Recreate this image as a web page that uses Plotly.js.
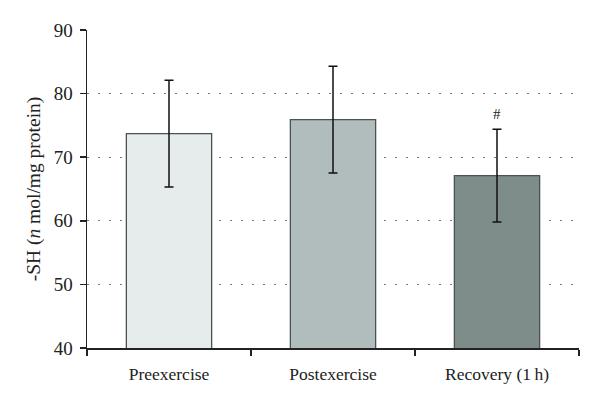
<!DOCTYPE html>
<html>
<head>
<meta charset="utf-8">
<script src="https://cdn.plot.ly/plotly-3.0.1.min.js"></script>
<style>html,body{margin:0;padding:0;background:#fff;}#chart{width:600px;height:409px;}</style>
</head>
<body>
<div id="chart"></div>
<script>
const categories = ["Preexercise", "Postexercise", "Recovery (1\u2009h)"];
const means = [73.7, 75.9, 67.1];
const errors = [8.4, 8.4, 7.3];
const barColors = ["#e6ebeb", "#b1bdbc", "#7e8d8a"];
const marks = ["", "", "#"];

const font = "Liberation Serif, Times New Roman, serif";

const trace = {
  type: "bar",
  x: categories,
  y: means,
  width: 0.52,
  marker: { color: barColors, line: { color: "#4a5252", width: 1.3 } },
  error_y: { type: "data", array: errors, visible: true, color: "#111", thickness: 1.5, width: 4.5 },
  hoverinfo: "skip"
};

const annotations = categories.map((c, i) => ({
  x: c, y: means[i] + errors[i], text: marks[i], showarrow: false,
  yanchor: "bottom", yshift: 5, font: { family: font, size: 15, color: "#222" }
})).filter(a => a.text);

const layout = {
  width: 600, height: 409,
  margin: { l: 87, r: 21, t: 30, b: 61 },
  paper_bgcolor: "#fff", plot_bgcolor: "#fff",
  showlegend: false,
  font: { family: font, color: "#222" },
  xaxis: {
    type: "category", range: [-0.5, 2.5],
    showline: true, linecolor: "#222", linewidth: 1.5,
    ticks: "outside", tickson: "boundaries", ticklen: 6, tickcolor: "#222", tickwidth: 1.5,
    tickfont: { family: font, size: 17.5, color: "#222" },
    ticklabelstandoff: 9,
    showgrid: false, zeroline: false
  },
  yaxis: {
    range: [40, 90], tickvals: [40, 50, 60, 70, 80, 90],
    showline: true, linecolor: "#222", linewidth: 1.5,
    ticks: "outside", ticklen: 6, tickcolor: "#222", tickwidth: 1.5,
    tickfont: { family: font, size: 19, color: "#222" },
    ticklabelstandoff: 3,
    showgrid: true, gridcolor: "#777", gridwidth: 1.2, griddash: "1.5px,9.5px",
    zeroline: false,
    title: { text: "-SH (<i>n</i> mol/mg protein)", font: { family: font, size: 19.5, color: "#222" }, standoff: 8 }
  },
  annotations: annotations
};

Plotly.newPlot("chart", [trace], layout, { staticPlot: true, displayModeBar: false });
</script>
</body>
</html>
